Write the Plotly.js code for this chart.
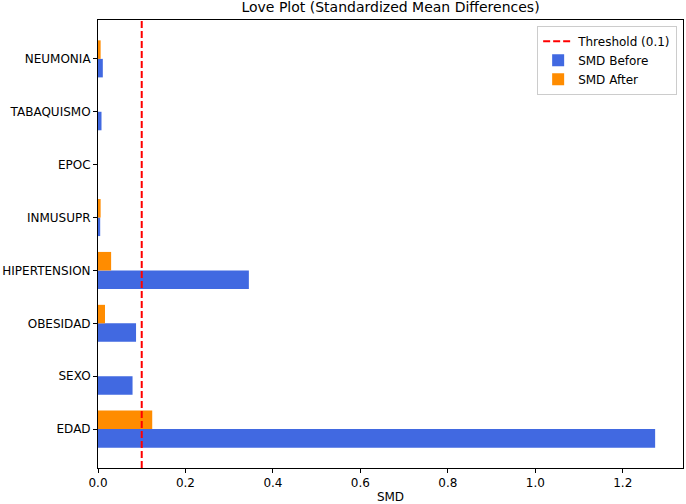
<!DOCTYPE html>
<html>
<head>
<meta charset="utf-8">
<script src="https://cdn.plot.ly/plotly-3.0.1.min.js"></script>
<style>
  html, body { margin: 0; padding: 0; background: #ffffff; }
  #chart { width: 686px; height: 504px; }
</style>
</head>
<body>
<div id="chart"></div>
<script>
// Covariates, bottom to top
const covariates = ["EDAD", "SEXO", "OBESIDAD", "HIPERTENSION", "INMUSUPR", "EPOC", "TABAQUISMO", "NEUMONIA"];
// Absolute standardized mean differences before and after matching
const smdBefore = [1.274, 0.079, 0.087, 0.345, 0.005, 0.000, 0.008, 0.011];
const smdAfter  = [0.124, 0.000, 0.016, 0.030, 0.006, 0.000, 0.000, 0.006];
const threshold = 0.1;

const positions = covariates.map((_, i) => i);
const barWidth = 0.35;
const font = "DejaVu Sans, Liberation Sans, sans-serif";

const traces = [
  {
    type: "bar", orientation: "h", name: "SMD Before",
    y: positions, x: smdBefore, width: barWidth, offset: -barWidth,
    marker: { color: "#4169E1" }, hoverinfo: "x"
  },
  {
    type: "bar", orientation: "h", name: "SMD After",
    y: positions, x: smdAfter, width: barWidth, offset: 0,
    marker: { color: "#FF8C00" }, hoverinfo: "x"
  }
];

const xMax = Math.max(...smdBefore, ...smdAfter) * 1.05;
const yPad = (covariates.length - 1 + 2 * barWidth) * 0.05;

const layout = {
  width: 686, height: 504,
  margin: { l: 98, r: 3, t: 20, b: 36 },
  paper_bgcolor: "#ffffff", plot_bgcolor: "#ffffff",
  font: { family: font, size: 12, color: "#000" },
  barmode: "overlay",
  title: {
    text: "Love Plot (Standardized Mean Differences)",
    font: { family: font, size: 14, color: "#000" },
    x: 0.5693, xanchor: "center", y: 0.986, yanchor: "middle", yref: "container"
  },
  xaxis: {
    range: [0, xMax],
    tickvals: [0, 0.2, 0.4, 0.6, 0.8, 1.0, 1.2],
    ticktext: ["0.0", "0.2", "0.4", "0.6", "0.8", "1.0", "1.2"],
    ticks: "outside", ticklen: 4, tickcolor: "#000", tickwidth: 1,
    showline: true, linecolor: "#000", linewidth: 1, mirror: true,
    showgrid: false, zeroline: false,
    tickfont: { family: font, size: 12, color: "#000" },
    title: { text: "SMD", font: { family: font, size: 12, color: "#000" }, standoff: 7 }
  },
  yaxis: {
    range: [-barWidth - yPad, covariates.length - 1 + barWidth + yPad],
    tickvals: positions, ticktext: covariates,
    ticks: "outside", ticklen: 4, tickcolor: "#000", tickwidth: 1,
    showline: true, linecolor: "#000", linewidth: 1, mirror: true,
    showgrid: false, zeroline: false,
    tickfont: { family: font, size: 12, color: "#000" }
  },
  shapes: [{
    type: "line", xref: "x", yref: "paper",
    x0: threshold, x1: threshold, y0: 0, y1: 1,
    line: { color: "#FF0000", width: 2, dash: "7px,3px" },
    showlegend: true, name: "Threshold (0.1)", legendrank: 1
  }],
  legend: {
    x: 0.99, xanchor: "right", y: 0.987, yanchor: "top",
    bgcolor: "rgba(255,255,255,0.8)", bordercolor: "#cccccc", borderwidth: 1,
    font: { family: font, size: 12, color: "#000" },
    traceorder: "normal", tracegroupgap: 0
  },
  showlegend: true
};

Plotly.newPlot("chart", traces, layout, { displayModeBar: false, staticPlot: true });
</script>
</body>
</html>
